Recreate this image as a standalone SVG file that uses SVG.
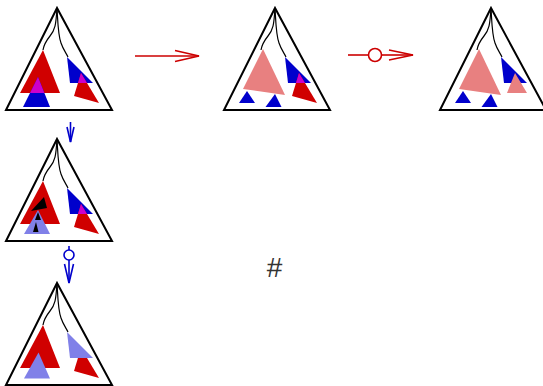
<svg xmlns="http://www.w3.org/2000/svg" xmlns:xlink="http://www.w3.org/1999/xlink" width="543" height="386" viewBox="0 0 543 386">
<style>
.frame{fill:#fff;stroke:#000;stroke-width:2;stroke-linejoin:miter}
.curve{fill:none;stroke:#000;stroke-width:1.2}
.red{fill:#d00000}
.blue{fill:#0000cc}
.mag{fill:#cc00cc}
.pink{fill:#e88080}
.lblue{fill:#8080e8}
.blk{fill:#000}
.ra{fill:none;stroke:#cc0000;stroke-width:1.6}
.ba{fill:none;stroke:#0000cc;stroke-width:1.6}
.lbl{font-family:"Liberation Sans",Arial,sans-serif;font-size:28px;fill:#333}
</style>
<defs>
<polygon id="redL" points="43,50 20,93 60,93"/>
<polygon id="blueL" points="38,77 23,107 50,107"/>
<polygon id="blueR" points="67,57 70,83 93,83"/>
<polygon id="redR" points="81,73 74,96 99,103"/>
<polygon id="pinkBig" points="45,49 25,89 67,95"/>
<clipPath id="cRedL"><use xlink:href="#redL"/></clipPath>
<clipPath id="cBlueR"><use xlink:href="#blueR"/></clipPath>
<g id="frame">
<polygon class="frame" points="57,8 6,110 112,110"/>
<path class="curve" d="M57,8 C56,25 55,30 50,36 C46,41 44,44 43,50"/>
<path class="curve" d="M57,8 C58,25 58,35 61,43 C63,49 66,53 68,57"/>
</g>
<g id="rightPair">
<use xlink:href="#blueR" class="blue"/>
<use xlink:href="#redR" class="red"/>
<use xlink:href="#redR" class="mag" clip-path="url(#cBlueR)"/>
</g>
<g id="smallBlues">
<polygon class="blue" points="29,91 21,103 37,103"/>
<polygon class="blue" points="57,94 47.5,107 63.5,107"/>
</g>
</defs>
<g id="tree1">
<use xlink:href="#frame"/>
<use xlink:href="#redL" class="red"/>
<use xlink:href="#blueL" class="blue"/>
<use xlink:href="#blueL" class="mag" clip-path="url(#cRedL)"/>
<use xlink:href="#rightPair"/>
</g>
<g id="tree2" transform="translate(218,0)">
<use xlink:href="#frame"/>
<use xlink:href="#pinkBig" class="pink"/>
<use xlink:href="#smallBlues"/>
<use xlink:href="#rightPair"/>
</g>
<g id="tree3" transform="translate(434,0)">
<use xlink:href="#frame"/>
<use xlink:href="#pinkBig" class="pink"/>
<use xlink:href="#smallBlues"/>
<use xlink:href="#blueR" class="blue"/>
<polygon class="pink" points="81,73 73,93 93,93"/>
</g>
<g id="tree4" transform="translate(0,131)">
<use xlink:href="#frame"/>
<use xlink:href="#redL" class="red"/>
<polygon class="lblue" points="38,79 24,103 50,103"/>
<polygon class="blk" points="31,80 44,66 47,77"/>
<polygon class="blk" points="38,81 35,89 41,89"/>
<polygon class="blk" points="36,91 33,101 38.5,101"/>
<use xlink:href="#rightPair"/>
</g>
<g id="tree5" transform="translate(0,275)">
<use xlink:href="#frame"/>
<use xlink:href="#redL" class="red"/>
<polygon class="lblue" points="38.5,77.5 24,103.5 50,103.5"/>
<use xlink:href="#redR" class="red"/>
<use xlink:href="#blueR" class="lblue"/>
</g>
<g id="connectors">
<line class="ra" x1="135" y1="56" x2="199" y2="56"/>
<polyline class="ra" points="175,50.5 199,56 175,61.5"/>
<line class="ra" x1="348" y1="55" x2="368.5" y2="55"/>
<circle class="ra" cx="375" cy="55" r="6.5"/>
<line class="ra" x1="381.5" y1="55" x2="413" y2="55"/>
<polyline class="ra" points="389,50 413,55 389,60"/>
<line class="ba" x1="70.5" y1="122" x2="70.5" y2="142"/>
<polyline class="ba" points="67,127 70.5,142 74,127"/>
<line class="ba" x1="69" y1="246" x2="69" y2="250"/>
<circle class="ba" cx="69" cy="255" r="5"/>
<line class="ba" x1="69" y1="260" x2="69" y2="283"/>
<polyline class="ba" points="64.5,264 69,283 73.5,264"/>
</g>
<text class="lbl" x="274.5" y="277" text-anchor="middle">#</text>
</svg>
